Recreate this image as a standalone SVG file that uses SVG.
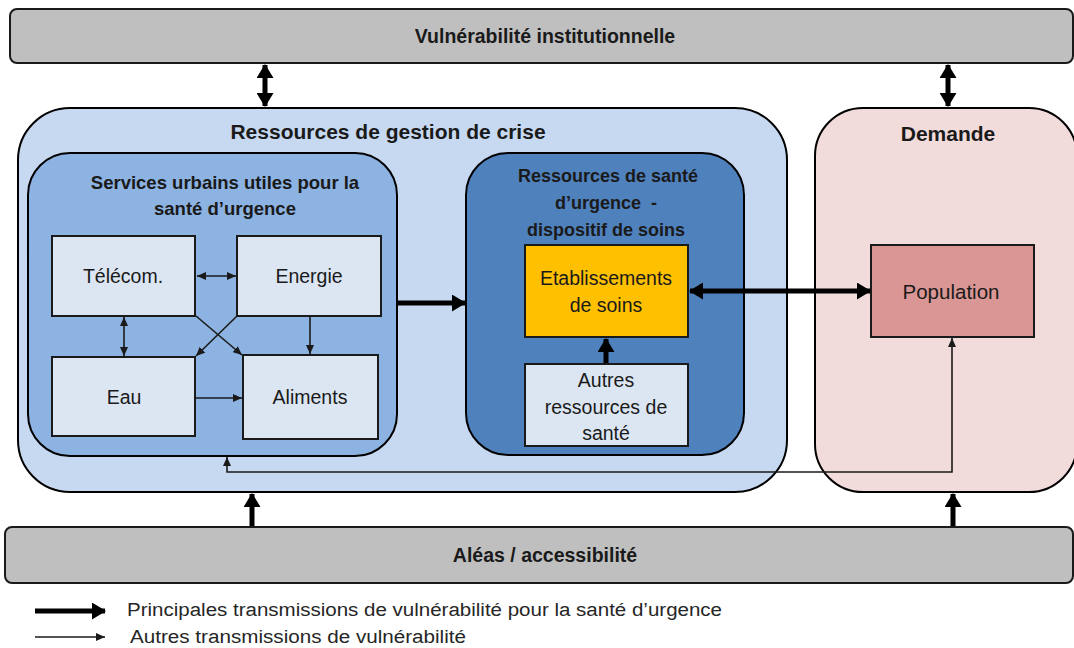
<svg xmlns="http://www.w3.org/2000/svg" width="1074" height="648" viewBox="0 0 1074 648">
<style>
.bar{fill:#bfbfbf;stroke:#1a1a1a;stroke-width:2}
.box{fill:#dce6f2;stroke:#1a1a1a;stroke-width:2}
.t{font-family:"Liberation Sans",Arial,sans-serif;fill:#1a1a1a;text-anchor:middle}
.b{font-weight:bold}
.n{font-size:19.5px}
.thick{stroke:#000;stroke-width:5;fill:none}
.thin{stroke:#1a1a1a;stroke-width:1.6;fill:none}
.leg{font-family:"Liberation Sans",Arial,sans-serif;fill:#262626;font-size:18px}
</style>
<defs>
<marker id="big" markerUnits="userSpaceOnUse" markerWidth="14" markerHeight="17" refX="13" refY="8.5" orient="auto-start-reverse" viewBox="0 0 14 17">
<path d="M0,0 L14,8.5 L0,17 z" fill="#000"/>
</marker>
<marker id="small" markerUnits="userSpaceOnUse" markerWidth="9" markerHeight="8" refX="9" refY="4" orient="auto-start-reverse" viewBox="0 0 9 8">
<path d="M0,0 L9,4 L0,8 z" fill="#1a1a1a"/>
</marker>
</defs>
<rect width="1074" height="648" fill="#fff"/>

<g id="vulnerabilite">
<rect class="bar" x="10" y="9" width="1063" height="54" rx="7"/>
<text class="t b" x="545" y="43" font-size="19.5">Vulnérabilité institutionnelle</text>
</g>

<g id="aleas">
<rect class="bar" x="5" y="527" width="1068" height="56" rx="7"/>
<text class="t b" x="545" y="562" font-size="19.5">Aléas / accessibilité</text>
</g>

<g id="crise">
<rect x="18" y="108" width="769" height="384" rx="52" fill="#c6d9f1" stroke="#000" stroke-width="2"/>
<text class="t b" x="388" y="139" font-size="21">Ressources de gestion de crise</text>
</g>

<g id="demande">
<rect x="815" y="108" width="262" height="384" rx="48" fill="#f2dcdb" stroke="#000" stroke-width="2"/>
<text class="t b" x="948" y="141" font-size="21">Demande</text>
</g>

<g id="services">
<rect x="28" y="153" width="369" height="303" rx="42" fill="#8db3e2" stroke="#000" stroke-width="2"/>
<text class="t b" x="225" y="189" font-size="18.5">Services urbains utiles pour la</text>
<text class="t b" x="225" y="215" font-size="18.5">santé d’urgence</text>
</g>

<g id="sante">
<rect x="466" y="153" width="278" height="302" rx="42" fill="#4f81bd" stroke="#000" stroke-width="2"/>
<text class="t b" x="608" y="182" font-size="18">Ressources de santé</text>
<text class="t b" x="606" y="209" font-size="18">d’urgence&#160; -</text>
<text class="t b" x="606" y="236" font-size="18">dispositif de soins</text>
</g>

<g id="telecom">
<rect class="box" x="52" y="236" width="143" height="80"/>
<text class="t n" x="123" y="283">Télécom.</text>
</g>
<g id="energie">
<rect class="box" x="237" y="236" width="144" height="80"/>
<text class="t n" x="309" y="283">Energie</text>
</g>
<g id="eau">
<rect class="box" x="52" y="357" width="143" height="79"/>
<text class="t n" x="124" y="404">Eau</text>
</g>
<g id="aliments">
<rect class="box" x="243" y="355" width="135" height="84"/>
<text class="t n" x="310" y="404">Aliments</text>
</g>

<g id="etablissements">
<rect x="525" y="245" width="163" height="92" fill="#ffc000" stroke="#1a1a1a" stroke-width="2"/>
<text class="t n" x="606" y="285">Etablissements</text>
<text class="t n" x="606" y="312">de soins</text>
</g>

<g id="autres">
<rect class="box" x="525" y="364" width="163" height="82"/>
<text class="t n" x="606" y="387">Autres</text>
<text class="t n" x="606" y="414">ressources de</text>
<text class="t n" x="606" y="440">santé</text>
</g>

<g id="population">
<rect x="871" y="245" width="163" height="92" fill="#d99694" stroke="#1a1a1a" stroke-width="2"/>
<text class="t" x="951" y="299" font-size="20.5">Population</text>
</g>

<g id="connectors">
<line class="thick" x1="265" y1="65" x2="265" y2="106" marker-start="url(#big)" marker-end="url(#big)"/>
<line class="thick" x1="948" y1="65" x2="948" y2="106" marker-start="url(#big)" marker-end="url(#big)"/>
<line class="thick" x1="398" y1="303" x2="465" y2="303" marker-end="url(#big)"/>
<line class="thick" x1="690" y1="291" x2="870" y2="291" marker-start="url(#big)" marker-end="url(#big)"/>
<line class="thick" x1="606" y1="363" x2="606" y2="339" marker-end="url(#big)"/>
<line class="thick" x1="252" y1="526" x2="252" y2="494" marker-end="url(#big)"/>
<line class="thick" x1="953" y1="526" x2="953" y2="494" marker-end="url(#big)"/>
<line class="thin" x1="197" y1="276" x2="236" y2="276" marker-start="url(#small)" marker-end="url(#small)"/>
<line class="thin" x1="124" y1="317" x2="124" y2="356" marker-start="url(#small)" marker-end="url(#small)"/>
<line class="thin" x1="196" y1="316" x2="242" y2="355" marker-end="url(#small)"/>
<line class="thin" x1="237" y1="316" x2="196" y2="356" marker-end="url(#small)"/>
<line class="thin" x1="310" y1="317" x2="310" y2="354" marker-end="url(#small)"/>
<line class="thin" x1="196" y1="398" x2="242" y2="398" marker-end="url(#small)"/>
<polyline class="thin" points="227,457 227,472 952,472 952,338" marker-start="url(#small)" marker-end="url(#small)"/>
</g>

<g id="legende">
<line class="thick" x1="35" y1="611" x2="105" y2="611" marker-end="url(#big)"/>
<line class="thin" x1="35" y1="637" x2="105" y2="637" marker-end="url(#small)"/>
<text class="leg" x="127" y="616" textLength="595" lengthAdjust="spacingAndGlyphs">Principales transmissions de vulnérabilité pour la santé d’urgence</text>
<text class="leg" x="130" y="643" textLength="336" lengthAdjust="spacingAndGlyphs">Autres transmissions de vulnérabilité</text>
</g>
</svg>
